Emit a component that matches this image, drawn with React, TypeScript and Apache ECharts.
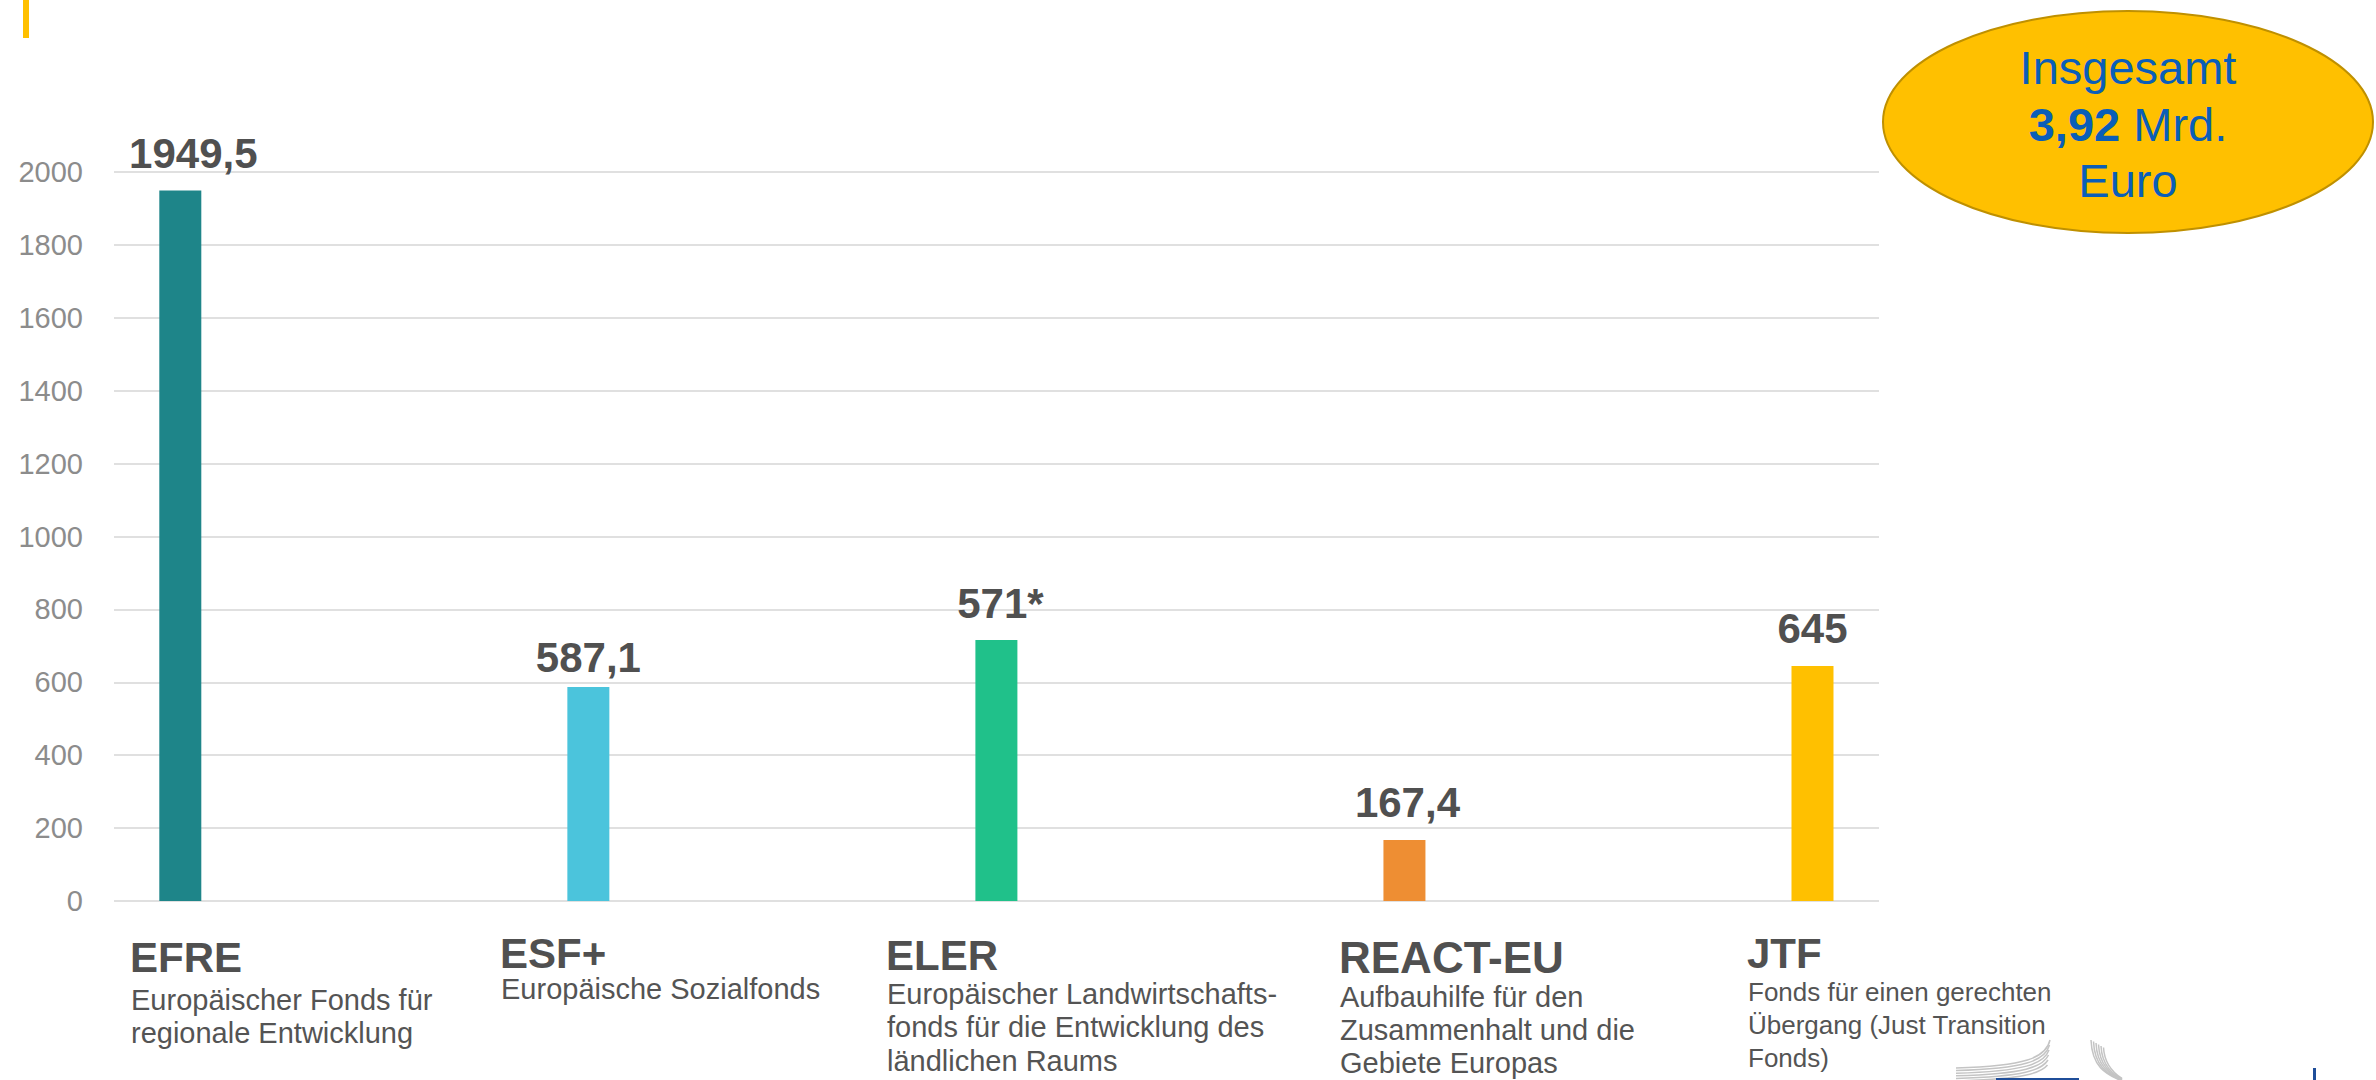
import React, { useEffect, useRef } from "react";
import * as echarts from "echarts";

const categories = ["EFRE", "ESF+", "ELER", "REACT-EU", "JTF"];
const values = [1949.5, 587.1, 716, 167.4, 645];
const valueLabels = ["1949,5", "587,1", "571*", "167,4", "645"];
const descriptions = [
  ["Europäischer Fonds für", "regionale Entwicklung"],
  ["Europäische Sozialfonds"],
  ["Europäischer Landwirtschafts-", "fonds für die Entwicklung des", "ländlichen Raums"],
  ["Aufbauhilfe für den", "Zusammenhalt und die", "Gebiete Europas"],
  ["Fonds für einen gerechten", "Übergang (Just Transition", "Fonds)"],
];
const barColors = ["#1E8589", "#4BC4DC", "#20C18A", "#EE8E33", "#FFC000"];
const yMin = 0;
const yMax = 2000;
const yInterval = 200;
const totalLines = ["Insgesamt", "3,92", "Mrd.", "Euro"];

// label placement tweaks per bar (style only)
const labelTweaks = [
  { distance: 16, offset: [13, 0] },
  { distance: 9, offset: [0, 0] },
  { distance: 16, offset: [4, 0] },
  { distance: 16, offset: [3, 0] },
  { distance: 16, offset: [0, 0] },
];

// layout of the text blocks under the bars (x, title baseline, title size, desc baseline, desc size, line height)
const textLayout = [
  { x: 130, tb: 972, ts: 42, db: 1010, ds: 29, lh: 33.5 },
  { x: 500, tb: 968, ts: 42, db: 999, ds: 29, lh: 33.5 },
  { x: 886, tb: 970, ts: 42, db: 1004, ds: 29, lh: 33.5 },
  { x: 1339, tb: 973, ts: 44, db: 1007, ds: 29, lh: 33 },
  { x: 1747, tb: 968, ts: 42, db: 1001, ds: 26, lh: 33 },
];

const FONT = "'Liberation Sans', Arial, sans-serif";

// x positions: bar centres sit at integer indices on a value axis
const xMin = -0.1625;
const xMax = 4.163;

export default function App() {
  const ref = useRef<HTMLDivElement>(null);

  useEffect(() => {
    if (!ref.current) return;
    const chart = echarts.init(ref.current, null, { renderer: "svg" });

    const graphics: any[] = [];
    graphics.push({
      type: "rect",
      shape: { x: 23, y: 0, width: 6, height: 38 },
      style: { fill: "#FFC000" },
    });
    graphics.push({
      type: "ellipse",
      shape: { cx: 2128, cy: 122, rx: 245, ry: 111 },
      style: { fill: "#FFC000", stroke: "#BF9000", lineWidth: 2 },
    });
    graphics.push({
      type: "text",
      x: 2128,
      y: 124,
      style: {
        text: `{a|${totalLines[0]}}\n{b|${totalLines[1]}}{a| ${totalLines[2]}}\n{a|${totalLines[3]}}`,
        align: "center",
        verticalAlign: "middle",
        rich: {
          a: { fontSize: 47, fontFamily: FONT, fill: "#0A5EB8", color: "#0A5EB8", lineHeight: 56.5 },
          b: { fontSize: 47, fontFamily: FONT, fontWeight: "bold", fill: "#0A5EB8", color: "#0A5EB8", lineHeight: 56.5 },
        },
      },
    });

    categories.forEach((c, i) => {
      const L = textLayout[i];
      graphics.push({
        type: "text",
        x: L.x,
        y: L.tb - 0.35 * L.ts,
        style: {
          text: c,
          fontSize: L.ts,
          fontWeight: "bold",
          fontFamily: FONT,
          fill: "#505050",
          align: "left",
          verticalAlign: "middle",
        },
      });
      graphics.push({
        type: "text",
        x: L.x + 1,
        y: L.db - L.lh / 2 - 0.35 * L.ds,
        style: {
          text: descriptions[i].join("\n"),
          fontSize: L.ds,
          fontFamily: FONT,
          fill: "#545454",
          lineHeight: L.lh,
          align: "left",
          verticalAlign: "top",
        },
      });
    });

    for (let i = 0; i < 6; i++) {
      graphics.push({
        type: "bezierCurve",
        shape: {
          x1: 1956,
          y1: 1068 + i * 2.6,
          cpx1: 2025,
          cpy1: 1066 + i * 2.6,
          cpx2: 2046 - i,
          cpy2: 1058 + i * 3,
          x2: 2050 - i * 0.5,
          y2: 1040 + i * 5,
        },
        style: { stroke: "#C4C4C4", lineWidth: 1.5, fill: "none" },
      });
      graphics.push({
        type: "bezierCurve",
        shape: {
          x1: 2091 + i * 2.5,
          y1: 1040 + i * 1.5,
          cpx1: 2092 + i * 2.5,
          cpy1: 1066,
          cpx2: 2105 + i * 2,
          cpy2: 1074,
          x2: 2122,
          y2: 1081 - i * 0.5,
        },
        style: { stroke: "#C4C4C4", lineWidth: 1.5, fill: "none" },
      });
    }
    graphics.push({
      type: "rect",
      shape: { x: 1996, y: 1078, width: 83, height: 4 },
      style: { fill: "#1F4E99" },
    });
    graphics.push({
      type: "rect",
      shape: { x: 2313, y: 1068, width: 3, height: 14 },
      style: { fill: "#1F4E99" },
    });

    chart.setOption({
      animation: false,
      backgroundColor: "#ffffff",
      grid: { left: 114, top: 172, width: 1765, height: 729 },
      xAxis: {
        type: "value",
        min: xMin,
        max: xMax,
        show: false,
      },
      yAxis: {
        type: "value",
        min: yMin,
        max: yMax,
        interval: yInterval,
        axisLine: { show: false },
        axisTick: { show: false },
        axisLabel: {
          fontSize: 29,
          fontFamily: FONT,
          color: "#8C8C8C",
          margin: 31,
          formatter: (v: number) => String(v),
        },
        splitLine: { show: true, lineStyle: { color: "#E0E0E0", width: 2 } },
      },
      series: [
        {
          type: "bar",
          name: "Mio. Euro",
          barWidth: 42,
          data: values.map((v, i) => ({
            value: [i, v],
            name: categories[i],
            itemStyle: { color: barColors[i] },
            label: { distance: labelTweaks[i].distance, offset: labelTweaks[i].offset },
          })),
          label: {
            show: true,
            position: "top",
            formatter: (p: any) => valueLabels[p.dataIndex],
            fontSize: 42,
            fontWeight: "bold",
            fontFamily: FONT,
            color: "#505050",
          },
        },
      ],
      graphic: graphics,
    });

    return () => chart.dispose();
  }, []);

  return (
    <div
      ref={ref}
      style={{ position: "fixed", left: 0, top: 0, width: 2376, height: 1080, background: "#fff" }}
    />
  );
}
